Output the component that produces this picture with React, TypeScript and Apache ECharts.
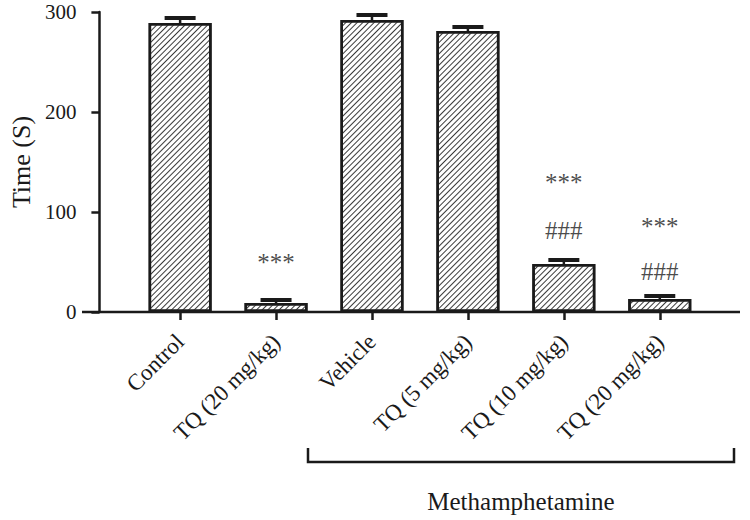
import React, { useEffect, useRef } from "react";
import * as echarts from "echarts";

const categories = ["Control", "TQ (20 mg/kg)", "Vehicle", "TQ (5 mg/kg)", "TQ (10 mg/kg)", "TQ (20 mg/kg)"];
const means = [289, 9, 292, 281, 48, 13];
const errors = [5, 3, 5, 4, 4, 3];
const starLabels = ["", "***", "", "", "***", "***"];
const starY = [null, 50, null, null, 130, 86];
const hashLabels = ["", "", "", "", "###", "###"];
const hashY = [null, null, null, null, 82, 41];
const yTicks = [0, 100, 200, 300];
const groupLabel = "Methamphetamine";

const FONT = "'Liberation Serif', 'Times New Roman', serif";
const INK = "#1a1a1a";

export default function App() {
  const ref = useRef<HTMLDivElement>(null);
  useEffect(() => {
    document.body.style.margin = "0";
    const chart = echarts.init(ref.current!, null, { renderer: "svg" });
    const annData: any[] = [];
    categories.forEach((_, i) => {
      if (starY[i] != null) annData.push({ value: [i, starY[i]], label: { formatter: starLabels[i] } });
      if (hashY[i] != null) annData.push({ value: [i, hashY[i]], label: { formatter: hashLabels[i] } });
    });
    chart.setOption({
      animation: false,
      grid: { left: 122.75, right: 42.25, top: 12, bottom: 208 },
      xAxis: {
        type: "category",
        data: categories,
        axisLine: { show: false },
        axisTick: { show: true, alignWithLabel: true, length: 8, lineStyle: { color: INK, width: 2.5 } },
        axisLabel: { rotate: 45, fontFamily: FONT, fontSize: 23, color: INK, margin: 26, interval: 0 },
      },
      yAxis: {
        type: "value",
        min: yTicks[0],
        max: yTicks[yTicks.length - 1],
        interval: 100,
        offset: 32.75,
        name: "Time (S)",
        nameLocation: "middle",
        nameGap: 64,
        nameRotate: 90,
        nameTextStyle: { fontFamily: FONT, fontSize: 26, color: INK },
        axisLine: { show: true, lineStyle: { color: INK, width: 2.5 } },
        axisTick: { show: true, length: 8, lineStyle: { color: INK, width: 2.5 } },
        axisLabel: { fontFamily: FONT, fontSize: 21, color: INK, margin: 23 },
        splitLine: { show: false },
      },
      series: [
        {
          type: "bar",
          data: means,
          barWidth: 63,
          itemStyle: {
            color: "#ffffff",
            borderColor: INK,
            borderWidth: 2.5,
            decal: {
              symbol: "rect",
              symbolSize: 1,
              color: "#3a3a3a",
              dashArrayX: [1, 0],
              dashArrayY: [1, 3],
              rotation: -Math.PI / 4,
            },
          },
        },
        {
          type: "custom",
          data: means.map((m, i) => [i, m, m + errors[i]]),
          renderItem: (params: any, api: any) => {
            const i = api.value(0);
            const top = api.coord([i, api.value(2)]);
            const base = api.coord([i, api.value(1)]);
            const half = 15.5;
            return {
              type: "group",
              children: [
                { type: "line", shape: { x1: top[0], y1: top[1], x2: base[0], y2: base[1] }, style: { stroke: INK, lineWidth: 2.5 } },
                { type: "line", shape: { x1: top[0] - half, y1: top[1], x2: top[0] + half, y2: top[1] }, style: { stroke: INK, lineWidth: 4 } },
              ],
            };
          },
          z: 3,
        },
        {
          type: "scatter",
          data: annData,
          symbolSize: 0,
          label: { show: true, position: "inside", fontFamily: FONT, fontSize: 25, color: INK },
          z: 4,
        },
      ],
      graphic: [
        { type: "line", shape: { x1: 82, y1: 312, x2: 740, y2: 312 }, style: { stroke: INK, lineWidth: 2.5 } },
        { type: "polyline", shape: { points: [[308, 448], [308, 462], [734, 462], [734, 448]] }, style: { stroke: INK, lineWidth: 2.5, fill: null } },
        { type: "text", x: 521, y: 501, style: { text: groupLabel, fontFamily: FONT, fontSize: 25, fill: INK, align: "center", verticalAlign: "middle" } },
      ],
    });
    return () => chart.dispose();
  }, []);
  return <div ref={ref} style={{ position: "absolute", left: 0, top: 0, width: 750, height: 520 }} />;
}
